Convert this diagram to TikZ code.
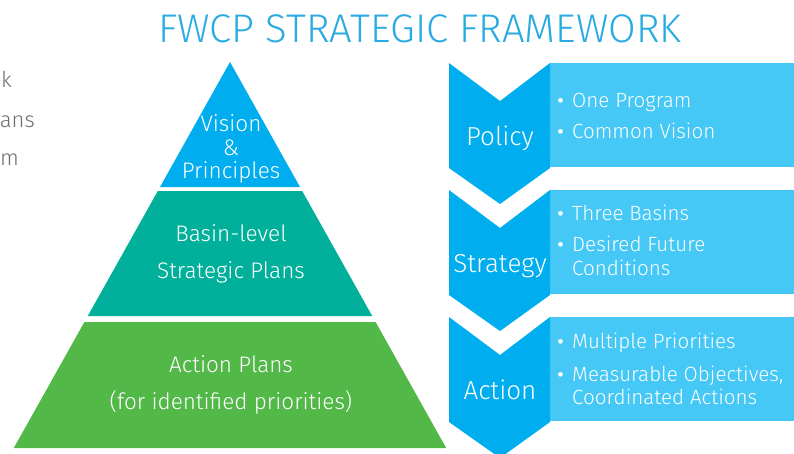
\documentclass[tikz,border=0pt]{standalone}
\usepackage{fontspec}
\setmainfont{Fira Sans Light}
\definecolor{fwcpblue}{HTML}{00AEEF}
\definecolor{fwcplight}{HTML}{45C8F5}
\definecolor{fwcpteal}{HTML}{00B09B}
\definecolor{fwcpgreen}{HTML}{52B848}
\definecolor{fwcpgray}{HTML}{6D6E71}
\definecolor{fwcptitle}{HTML}{29ABE2}
\newcommand{\itembul}{\makebox[16pt][l]{\raisebox{-4.5pt}{\scalebox{1.5}{\textbullet}}}}

\begin{document}
\begin{tikzpicture}[x=1pt, y=-1pt, every node/.style={inner sep=0pt, text=white}, tierlabel/.style={anchor=base, font=\fontsize{22.5}{26}\selectfont}, steplabel/.style={anchor=base, font=\fontsize{26}{30}\selectfont}, itemtext/.style={anchor=base west, font=\fontsize{20.6}{24}\selectfont}, sidetext/.style={anchor=base east, text=fwcpgray, font=\fontsize{22}{26}\selectfont}]

\useasboundingbox (0,0) rectangle (794,453);

% Title
\node[anchor=base, text=fwcptitle, font=\fontsize{40}{44}\selectfont] (title) at (420,42) {FWCP STRATEGIC FRAMEWORK};

% Clipped text at the left edge
\node[sidetext] (sidea) at (12,87) {k};
\node[sidetext] (sideb) at (35,127) {ans};
\node[sidetext] (sidec) at (19,165) {m};

% Pyramid tiers
\fill[fwcpblue] (230,62) -- (300,187) -- (160,187) -- cycle;
\fill[fwcpteal] (157.8,191) -- (302.2,191) -- (372.2,316) -- (87.8,316) -- cycle;
\fill[fwcpgreen] (84.4,322) -- (375.6,322) -- (446.2,448) -- (13.8,448) -- cycle;

% Tier labels
\node[tierlabel] (vis) at (231,131) {Vision};
\node[tierlabel] (amp) at (231,155) {\&};
\node[tierlabel] (prin) at (231,178) {Principles};
\node[tierlabel] (basin) at (231,241) {Basin-level};
\node[tierlabel] (splans) at (231,278) {Strategic Plans};
\node[tierlabel] (aplans) at (231,372) {Action Plans};
\node[tierlabel] (prio) at (231,409) {(for identified priorities)};

% Chevrons and boxes
\foreach \t/\lbl/\nm in {63/Policy/pol, 190/Strategy/str, 317/Action/act} {
    \fill[fwcplight] (550,\t) rectangle (794,{\t+104});
    \fill[fwcpblue] (449,\t) -- (500,{\t+38}) -- (550,\t) -- (550,{\t+105}) -- (500,{\t+141}) -- (449,{\t+105}) -- cycle;
    \node[steplabel] (\nm) at (500,{\t+82}) {\lbl};
}

% Bullet items
\node[itemtext] (pola) at (556,107) {\itembul One Program};
\node[itemtext] (polb) at (556,138) {\itembul Common Vision};
\node[itemtext] (stra) at (556,220) {\itembul Three Basins};
\node[itemtext] (strb) at (556,251) {\itembul Desired Future};
\node[itemtext] (strc) at (572,275) {Conditions};
\node[itemtext] (acta) at (556,348) {\itembul Multiple Priorities};
\node[itemtext] (actb) at (556,381) {\itembul Measurable Objectives,};
\node[itemtext] (actc) at (572,404) {Coordinated Actions};

\end{tikzpicture}
\end{document}
